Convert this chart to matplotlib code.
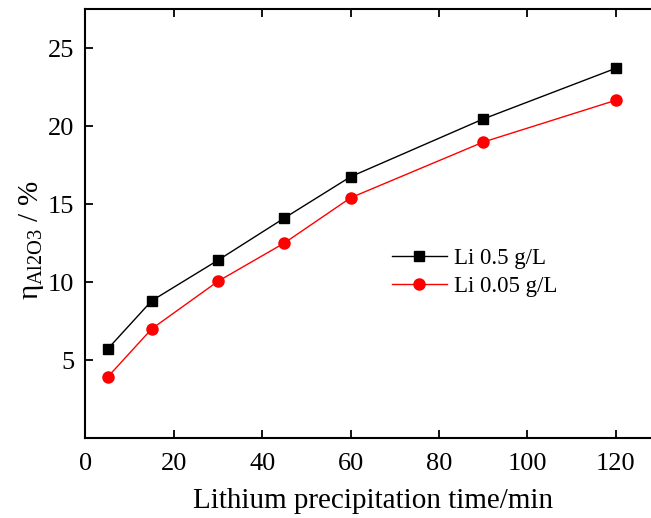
import numpy as np
import matplotlib.pyplot as plt

plt.rcParams['font.family'] = ['Liberation Serif', 'DejaVu Serif']
plt.rcParams['mathtext.fontset'] = 'custom'
plt.rcParams['mathtext.rm'] = 'Liberation Serif'
plt.rcParams['mathtext.it'] = 'Liberation Serif'

time = [5, 15, 30, 45, 60, 90, 120]
li_05 = [5.7, 8.8, 11.4, 14.1, 16.75, 20.45, 23.7]
li_005 = [3.9, 7.0, 10.05, 12.5, 15.4, 18.97, 21.65]

fig = plt.figure(figsize=(6.51, 5.18), dpi=100)
ax = fig.add_axes([0.1313, 0.1544, 0.8825, 0.8282])

ax.plot(time, li_05, 'k-s', lw=1, ms=7, label='Li 0.5 g/L')
ax.plot(time, li_005, '-o', color='red', lw=1, ms=8, label='Li 0.05 g/L')

ax.set_xlim(0, 130)
ax.set_ylim(0, 27.5)
ax.set_xticks([0, 20, 40, 60, 80, 100, 120])
ax.set_yticks([5, 10, 15, 20, 25])
ax.tick_params(direction='in', top=True, right=True, labelsize=19, width=1.3, length=6)
ax.tick_params(axis='x', pad=11)
ax.tick_params(axis='y', pad=8)
for s in ax.spines.values():
    s.set_linewidth(1.5)

ax.set_xlabel('Lithium precipitation time/min', fontsize=21, labelpad=9)
ax.set_ylabel(r'$\eta_{\mathrm{Al2O3}}$ / %', fontsize=21)
ax.yaxis.set_label_coords(-0.068, 0.46)

ax.legend(loc='upper left', bbox_to_anchor=(0.497, 0.492), frameon=False, fontsize=16.5,
          handlelength=2.4, handletextpad=0.3, labelspacing=0.3)

fig.savefig('out.png', dpi=100)
